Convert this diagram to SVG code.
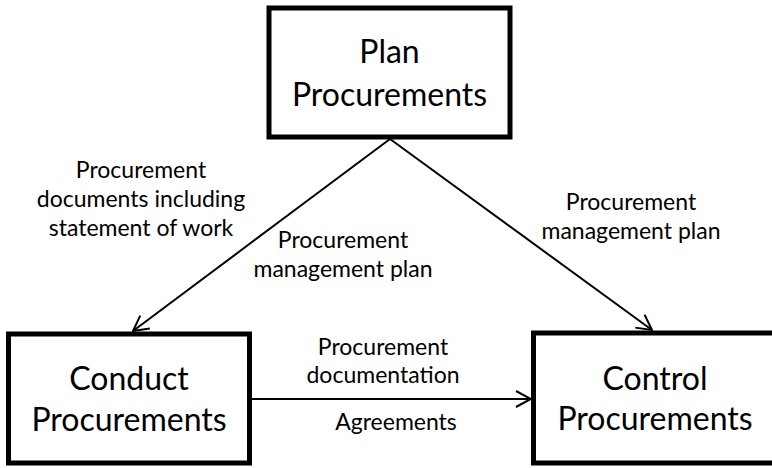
<svg xmlns="http://www.w3.org/2000/svg" width="772" height="468" viewBox="0 0 772 468">
<defs>
<style>
.box{fill:#ffffff;stroke:#000000;stroke-width:5}
.big{font-family:Lato,"Liberation Sans",sans-serif;font-size:32px;fill:#000000;text-anchor:middle}
.lbl{font-family:Lato,"Liberation Sans",sans-serif;font-size:23px;fill:#000000;text-anchor:middle}
.conn{fill:none;stroke:#000000;stroke-width:2}
</style>
<marker id="arr" viewBox="0 0 17 18" refX="16" refY="9" markerWidth="17" markerHeight="18" markerUnits="userSpaceOnUse" orient="auto">
<path d="M1,1 L16,9 L1,17" fill="none" stroke="#000000" stroke-width="2"/>
</marker>
</defs>
<rect width="772" height="468" fill="#ffffff"/>
<g id="connectors">
<line class="conn" x1="390" y1="139" x2="133" y2="331" marker-end="url(#arr)"/>
<line class="conn" x1="390" y1="139" x2="652" y2="330" marker-end="url(#arr)"/>
<line class="conn" x1="251" y1="399" x2="531" y2="399" marker-end="url(#arr)"/>
</g>
<g id="plan">
<rect class="box" x="269" y="8" width="241" height="129"/>
<text class="big" x="389.5" y="63">Plan</text>
<text class="big" x="389.5" y="106">Procurements</text>
</g>
<g id="conduct">
<rect class="box" x="8.5" y="334" width="241" height="129"/>
<text class="big" x="129" y="390">Conduct</text>
<text class="big" x="129" y="431">Procurements</text>
</g>
<g id="control">
<rect class="box" x="533.5" y="333" width="241" height="130"/>
<text class="big" x="655" y="390">Control</text>
<text class="big" x="655" y="430">Procurements</text>
</g>
<g id="labels">
<text class="lbl" x="141" y="178">Procurement</text>
<text class="lbl" x="141" y="207">documents including</text>
<text class="lbl" x="141" y="236">statement of work</text>
<text class="lbl" x="343" y="248">Procurement</text>
<text class="lbl" x="343" y="277">management plan</text>
<text class="lbl" x="631" y="210">Procurement</text>
<text class="lbl" x="631" y="239">management plan</text>
<text class="lbl" x="383" y="355">Procurement</text>
<text class="lbl" x="383" y="383">documentation</text>
<text class="lbl" x="396" y="430">Agreements</text>
</g>
</svg>
